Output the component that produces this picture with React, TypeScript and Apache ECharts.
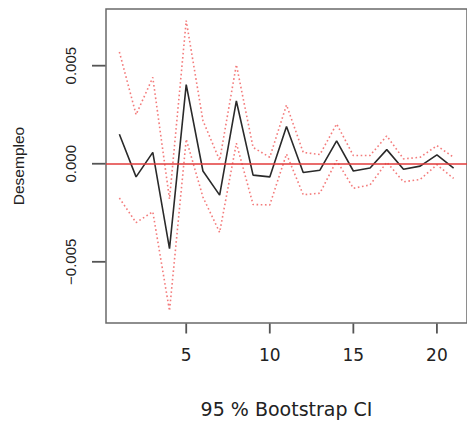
import React, { useEffect, useRef } from "react";
import * as echarts from "echarts";

// Lags (horizon)
const lags = [1, 2, 3, 4, 5, 6, 7, 8, 9, 10, 11, 12, 13, 14, 15, 16, 17, 18, 19, 20, 21];

// Impulse response (black solid line)
const irf = [
  0.0015, -0.00067, 0.00058, -0.00433, 0.00403, -0.00037, -0.0016, 0.0032, -0.00058, -0.00067,
  0.0019, -0.00045, -0.00033, 0.00117, -0.00037, -0.00022, 0.00072, -0.00028, -0.00012, 0.00045,
  -0.00022,
];

// Upper 95% bootstrap band (red dotted)
const upper = [
  0.0057, 0.0025, 0.0044, -0.0018, 0.0073, 0.0022, 0.00017, 0.00505, 0.00083, 0.00033,
  0.003, 0.00058, 0.00047, 0.00203, 0.00042, 0.00042, 0.00142, 0.00025, 0.00033, 0.00092,
  0.00033,
];

// Lower 95% bootstrap band (red dotted)
const lower = [
  -0.00175, -0.003, -0.00245, -0.0075, 0.00125, -0.0017, -0.0035, 0.00105, -0.00208, -0.0021,
  0.0005, -0.00158, -0.0015, 0.00017, -0.00125, -0.00108, 0.00008, -0.00092, -0.0008, -0.00005,
  -0.00075,
];

const xTickValues = [5, 10, 15, 20];
const yTickValues = [-0.005, 0, 0.005];
const yTickLabels = ["\u22120.005", "0.000", "0.005"];

const xName = "95 % Bootstrap CI";
const yName = "Desempleo";

const X_MIN = 0.2;
const X_MAX = 21.8;
const Y_MIN = -0.00812;
const Y_MAX = 0.00789;

export default function App() {
  const ref = useRef<HTMLDivElement>(null);

  useEffect(() => {
    if (!ref.current) return;
    const chart = echarts.init(ref.current, undefined, { renderer: "svg" });
    const pairs = (vals: number[]) => lags.map((l, i) => [l, vals[i]]);
    const dotted = {
      color: "#f05a5a",
      width: 1.6,
      type: [1.6, 2.6] as any,
      opacity: 0.8,
    };
    chart.setOption({
      animation: false,
      backgroundColor: "#ffffff",
      grid: {
        left: 106,
        top: 9,
        width: 366,
        height: 320,
        show: true,
        borderColor: "#6a6a6a",
        borderWidth: 1.5,
        backgroundColor: "transparent",
      },
      xAxis: {
        type: "value",
        min: X_MIN,
        max: X_MAX,
        splitLine: { show: false },
        axisLine: { show: false, onZero: false },
        axisTick: { show: false },
        axisLabel: {
          customValues: xTickValues,
          margin: 23,
          fontFamily: "DejaVu Sans",
          fontSize: 17,
          color: "#222",
        },
        name: xName,
        nameLocation: "middle",
        nameGap: 76,
        nameTextStyle: {
          fontFamily: "DejaVu Sans",
          fontSize: 19,
          color: "#222",
          verticalAlign: "top",
        },
      },
      yAxis: {
        type: "value",
        min: Y_MIN,
        max: Y_MAX,
        splitLine: { show: false },
        axisLine: { show: false, onZero: false },
        axisTick: { show: false },
        axisLabel: {
          customValues: yTickValues,
          rotate: 90,
          margin: 28,
          fontFamily: "Liberation Sans",
          fontSize: 15,
          color: "#222",
          formatter: (v: number) => {
            let best = 0;
            for (let i = 0; i < yTickValues.length; i++) {
              if (Math.abs(yTickValues[i] - v) < Math.abs(yTickValues[best] - v)) best = i;
            }
            return yTickLabels[best];
          },
        },
        name: yName,
        nameLocation: "middle",
        nameRotate: 90,
        nameGap: 80,
        nameTextStyle: {
          fontFamily: "Liberation Sans",
          fontSize: 15.5,
          color: "#222",
        },
      },
      series: [
        {
          type: "line",
          data: pairs(upper),
          showSymbol: false,
          symbol: "none",
          lineStyle: dotted,
          z: 2,
        },
        {
          type: "line",
          data: pairs(lower),
          showSymbol: false,
          symbol: "none",
          lineStyle: dotted,
          z: 2,
        },
        {
          type: "line",
          data: pairs(irf),
          showSymbol: false,
          symbol: "none",
          lineStyle: { color: "#2a2a2a", width: 1.6 },
          z: 4,
          markLine: {
            silent: true,
            symbol: "none",
            label: { show: false },
            lineStyle: { color: "#e23b3b", width: 1.6, type: "solid" },
            data: [{ yAxis: 0 }],
          },
        },
      ],
    });

    // Tick marks as thin filled rectangles, placed through the chart's own scales
    const ticks: any[] = [];
    xTickValues.forEach((v) => {
      const p = chart.convertToPixel({ gridIndex: 0 }, [v, Y_MIN]) as number[];
      if (p && isFinite(p[0]) && isFinite(p[1])) {
        ticks.push({
          type: "rect",
          silent: true,
          z: 100,
          shape: { x: p[0] - 0.9, y: p[1] + 0.5, width: 1.8, height: 10 },
          style: { fill: "#555" },
        });
      }
    });
    yTickValues.forEach((v) => {
      const p = chart.convertToPixel({ gridIndex: 0 }, [X_MIN, v]) as number[];
      if (p && isFinite(p[0]) && isFinite(p[1])) {
        ticks.push({
          type: "rect",
          silent: true,
          z: 100,
          shape: { x: p[0] - 14, y: p[1] - 0.9, width: 13.5, height: 1.8 },
          style: { fill: "#555" },
        });
      }
    });
    chart.setOption({ graphic: ticks });

    return () => chart.dispose();
  }, []);

  return (
    <div
      ref={ref}
      style={{ position: "absolute", left: 0, top: 0, width: 467, height: 423, background: "#fff" }}
    />
  );
}
